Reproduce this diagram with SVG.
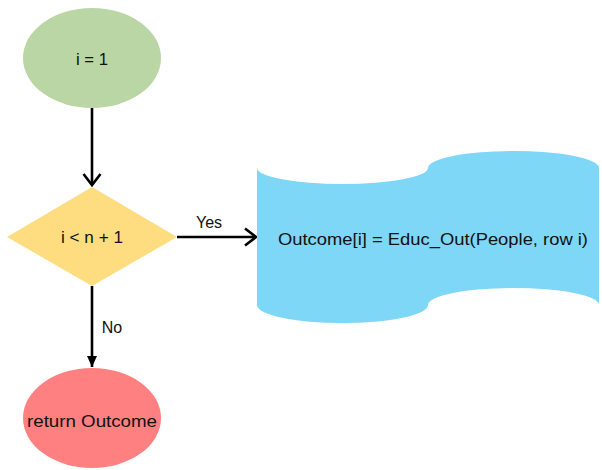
<svg xmlns="http://www.w3.org/2000/svg" width="602" height="470" viewBox="0 0 602 470">
<style>
text{font-family:"Liberation Sans",Arial,sans-serif;fill:#111;}
.lbl{font-size:16px;text-anchor:middle;}
.edge{stroke:#000;stroke-width:2.6;fill:none;}
</style>
<defs>
<marker id="chev" markerUnits="userSpaceOnUse" markerWidth="20" markerHeight="20" refX="14" refY="10" orient="auto" viewBox="0 0 20 20">
<path d="M3,1.5 L14,10 L3,18.5" fill="none" stroke="#000" stroke-width="2.6"/>
</marker>
<marker id="tri" markerUnits="userSpaceOnUse" markerWidth="14" markerHeight="12" refX="12" refY="6" orient="auto" viewBox="0 0 14 12">
<path d="M1,1 L12,6 L1,11 Z" fill="#000"/>
</marker>
</defs>
<rect width="602" height="470" fill="#fff"/>
<g id="connectors">
<line class="edge" x1="92" y1="108" x2="92" y2="185" marker-end="url(#chev)"/>
<line class="edge" x1="177" y1="237" x2="256" y2="237" marker-end="url(#chev)"/>
<line class="edge" x1="92" y1="286" x2="92" y2="367" marker-end="url(#tri)"/>
<text x="209" y="228" class="lbl">Yes</text>
<text x="112" y="333" class="lbl">No</text>
</g>
<g id="start">
<ellipse cx="92" cy="58" rx="69" ry="50" fill="#B9D6A4"/>
<text x="92" y="65" class="lbl" textLength="32" lengthAdjust="spacingAndGlyphs">i = 1</text>
</g>
<g id="decision">
<polygon points="92,187 177,237 92,286 7,237" fill="#FEDC80"/>
<text x="92" y="243" class="lbl" textLength="62" lengthAdjust="spacingAndGlyphs">i &lt; n + 1</text>
</g>
<g id="process">
<path d="M257,168 A85.5,16 0 0 0 428,168 A85.5,17 0 0 1 599,168 L599,305 A85.5,17 0 0 0 428,305 A85.5,18 0 0 1 257,305 Z" fill="#7FD7F7"/>
<text x="433" y="245" class="lbl" font-size="17" textLength="310" lengthAdjust="spacingAndGlyphs">Outcome[i] = Educ_Out(People, row i)</text>
</g>
<g id="end">
<ellipse cx="92" cy="418" rx="69" ry="50" fill="#FF8080"/>
<text x="92" y="427" class="lbl" font-size="17" textLength="130" lengthAdjust="spacingAndGlyphs">return Outcome</text>
</g>
</svg>
